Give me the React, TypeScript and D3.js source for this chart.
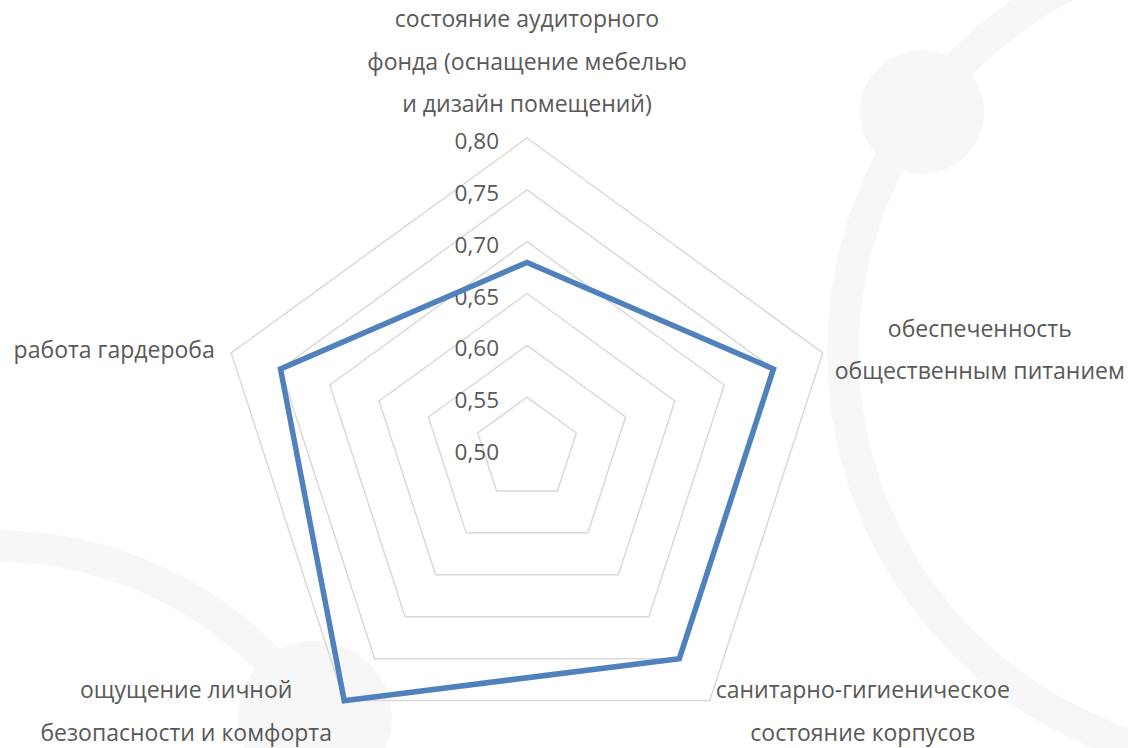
import React from "react";
import * as d3 from "d3";

// ---- data ----
const categories: string[][] = [
  ["состояние аудиторного", "фонда (оснащение мебелью", "и дизайн помещений)"],
  ["обеспеченность", "общественным питанием"],
  ["санитарно-гигиеническое", "состояние корпусов"],
  ["ощущение личной", "безопасности и комфорта"],
  ["работа гардероба"],
];
const values: number[] = [0.68, 0.75, 0.75, 0.8, 0.75];
const tickValues: number[] = [0.5, 0.55, 0.6, 0.65, 0.7, 0.75, 0.8];

// ---- layout ----
const W = 1128;
const H = 748;
const CX = 527;
const CY = 449;
const R = 311;
const FONT = "'Open Sans', 'Noto Sans', sans-serif";
const TEXT = "#595959";
const LINE_H = 42.5;
const CAT_FS = 23;
const TICK_FS = 22.5;
// offset of first baseline from outer vertex of each axis
const labelOffsets: [number, number][] = [
  [0, -111],
  [157, -16],
  [153, -2.5],
  [-158, -2.5],
  [-117, 5],
];

export default function App() {
  const n = categories.length;
  const r = d3.scaleLinear().domain([0.5, 0.8]).range([0, R]);
  const angle = (i: number) => (i * 2 * Math.PI) / n;
  const pt = (i: number, rad: number): [number, number] => [
    CX + rad * Math.sin(angle(i)),
    CY - rad * Math.cos(angle(i)),
  ];

  const radial = d3
    .lineRadial<number>()
    .angle((_, i) => angle(i))
    .radius((d) => r(d))
    .curve(d3.curveLinearClosed);

  const rings = tickValues.filter((t) => t > 0.5);
  const fmt = (v: number) => d3.format(".2f")(v).replace(".", ",");

  return (
    <svg
      width={W}
      height={H}
      style={{ position: "absolute", left: 0, top: 0, display: "block", background: "#fff" }}
    >
      {/* decorative background */}
      <g fill="none" stroke="#f7f7f7">
        <circle cx={1255} cy={352} r={412} strokeWidth={32} />
        <circle cx={-4} cy={927} r={381} strokeWidth={32} />
      </g>
      <g fill="#f7f7f7">
        <circle cx={922} cy={112} r={62} />
        <circle cx={315} cy={718} r={77} />
      </g>

      <g transform={`translate(${CX},${CY})`}>
        {rings.map((t) => (
          <path
            key={t}
            d={radial(categories.map(() => t)) || ""}
            fill="none"
            stroke="#d9d9d9"
            strokeWidth={1.5}
          />
        ))}
      </g>

      {tickValues.map((t) => (
        <text
          key={t}
          x={499}
          y={CY - r(t) + 11}
          textAnchor="end"
          fontFamily={FONT}
          fontSize={TICK_FS}
          fill={TEXT}
        >
          {fmt(t)}
        </text>
      ))}

      <g transform={`translate(${CX},${CY})`}>
        <path
          d={radial(values) || ""}
          fill="none"
          stroke="#4f81bd"
          strokeWidth={5.5}
          strokeLinejoin="miter"
        />
      </g>

      {categories.map((lines, i) => {
        const [vx, vy] = pt(i, R);
        const [dx, dy] = labelOffsets[i];
        return (
          <text
            key={i}
            textAnchor="middle"
            fontFamily={FONT}
            fontSize={CAT_FS}
            fill={TEXT}
          >
            {lines.map((l, j) => (
              <tspan key={j} x={vx + dx} y={vy + dy + j * LINE_H}>
                {l}
              </tspan>
            ))}
          </text>
        );
      })}
    </svg>
  );
}
